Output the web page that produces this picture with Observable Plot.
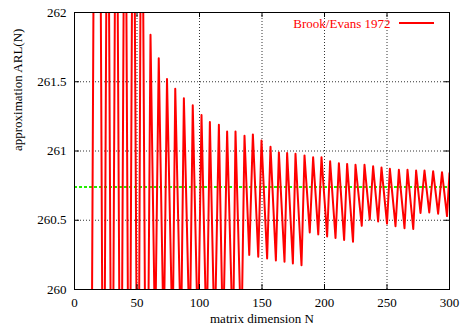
<!DOCTYPE html>
<html><head><meta charset="utf-8">
<script src="https://cdn.jsdelivr.net/npm/d3@7"></script>
<script src="https://cdn.jsdelivr.net/npm/@observablehq/plot@0.6"></script>
<style>body{margin:0;background:#fff} svg{display:block}</style>
</head><body><div id="chart"></div>
<script>
// Matrix dimension N (turning points of the oscillating approximation)
const matrixN = [13, 16.2, 20, 23.2, 26.5, 30, 33.4, 37, 40.4, 43.8, 47, 50.8, 53.7, 57.6,
  60.8, 64.5, 67.4, 71.4, 74, 78.5, 80.6, 85.2, 87.5, 92.2, 94.6, 98.8, 101.6, 105.7, 108.3, 112.1,
  115.5, 118.8, 122.1, 126.8, 128.8, 133.5, 136, 139.8, 142.7, 147, 149.6, 154.1, 156.8, 161.1,
  163.5, 168, 170.1, 174.7, 176.8, 181.6, 184, 188.2, 190.9, 195, 197.6, 202.1, 204.5, 208.8,
  211.5, 215.7, 218.1, 222.8, 224.8, 229.8, 232, 236.2, 238.9, 242.9, 245.6, 250, 252.3, 256.8,
  259.5, 264, 266.4, 271, 273.3, 276.8, 280, 283.8, 286.9, 290.9, 294, 298, 300];
// Approximated ARL(N) (values beyond 260..262 are off the chart)
const arl = [258, 264, 264, 258, 264, 258, 264, 258, 264, 258, 264, 258, 264, 258,
  261.84, 259.6, 261.67, 259.6, 261.52, 259.6, 261.45, 259.6, 261.38, 259.6, 261.33, 259.6, 261.26, 259.6, 261.21, 259.6,
  261.19, 259.6, 261.14, 259.6, 261.14, 259.6, 261.11, 260.25, 261.12, 260.236, 261.076, 260.224, 261.03, 260.21,
  260.99, 260.2, 260.986, 260.188, 260.98, 260.175, 260.968, 260.412, 260.955, 260.398, 260.955, 260.383, 260.926, 260.372,
  260.912, 260.358, 260.907, 260.345, 260.90, 260.46, 260.90, 260.505, 260.89, 260.491, 260.88, 260.476, 260.871, 260.457,
  260.864, 260.443, 260.864, 260.437, 260.859, 260.553, 260.859, 260.556, 260.854, 260.547, 260.847, 260.53, 260.84];
const referenceARL = 260.74;
const xTicks = [0, 50, 100, 150, 200, 250, 300];
const yTicks = [260, 260.5, 261, 261.5, 262];
const seriesLabel = "Brook/Evans 1972";
const xLabel = "matrix dimension N";
const yLabel = "approximation ARL(N)";

const points = matrixN.map((n, i) => ({n, v: arl[i]}));

const W = 461, H = 326, mL = 74, mR = 12, mT = 12, mB = 37;
const fW = W - mL - mR, fH = H - mT - mB, tk = 5;

const legendLine = (index, scales, values, dims) => {
  const ns = "http://www.w3.org/2000/svg";
  const g = document.createElementNS(ns, "g");
  const l = document.createElementNS(ns, "line");
  const x2 = dims.width - dims.marginRight - 15;
  l.setAttribute("x1", x2 - 35); l.setAttribute("x2", x2);
  l.setAttribute("y1", dims.marginTop + 11); l.setAttribute("y2", dims.marginTop + 11);
  l.setAttribute("stroke", "#ff0000"); l.setAttribute("stroke-width", 2);
  g.appendChild(l);
  return g;
};

const chart = Plot.plot({
  width: W, height: H,
  marginLeft: mL, marginRight: mR, marginTop: mT, marginBottom: mB,
  x: {domain: [0, 300]},
  y: {domain: [260, 262]},
  style: {fontFamily: "'Liberation Serif', 'DejaVu Serif', serif", fontSize: "13px", background: "white", color: "black"},
  marks: [
    Plot.ruleX(xTicks.slice(1, -1), {stroke: "#333", strokeWidth: 1, strokeDasharray: "1,2"}),
    Plot.ruleY(yTicks.slice(1, -1), {stroke: "#333", strokeWidth: 1, strokeDasharray: "1,2"}),
    Plot.ruleY([referenceARL], {stroke: "#22ee00", strokeWidth: 2, strokeDasharray: "3,2"}),
    Plot.line(points, {x: "n", y: "v", stroke: "#ff0000", strokeWidth: 2, clip: true}),
    Plot.frame({stroke: "black", strokeWidth: 1}),
    Plot.ruleX(xTicks, {insetTop: fH - tk, stroke: "black"}),
    Plot.ruleX(xTicks, {insetBottom: fH - tk, stroke: "black"}),
    Plot.ruleY(yTicks, {insetRight: fW - tk, stroke: "black"}),
    Plot.ruleY(yTicks, {insetLeft: fW - tk, stroke: "black"}),
    Plot.axisX(xTicks, {tickSize: 0, tickPadding: 8, label: null, fontSize: 13}),
    Plot.axisY(yTicks, {tickSize: 0, tickPadding: 8, label: null, fontSize: 13, tickFormat: d => String(d)}),
    Plot.text([xLabel], {frameAnchor: "bottom", dy: 29, fontSize: 13, lineAnchor: "middle"}),
    Plot.text([yLabel], {frameAnchor: "left", dx: -57, rotate: -90, fontSize: 13, lineAnchor: "middle"}),
    Plot.text([seriesLabel], {frameAnchor: "top-right", dx: -59, dy: 11, textAnchor: "end", lineAnchor: "middle", fill: "#ff0000", fontSize: 13}),
    legendLine
  ]
});
document.getElementById("chart").appendChild(chart);
</script>
</body></html>
